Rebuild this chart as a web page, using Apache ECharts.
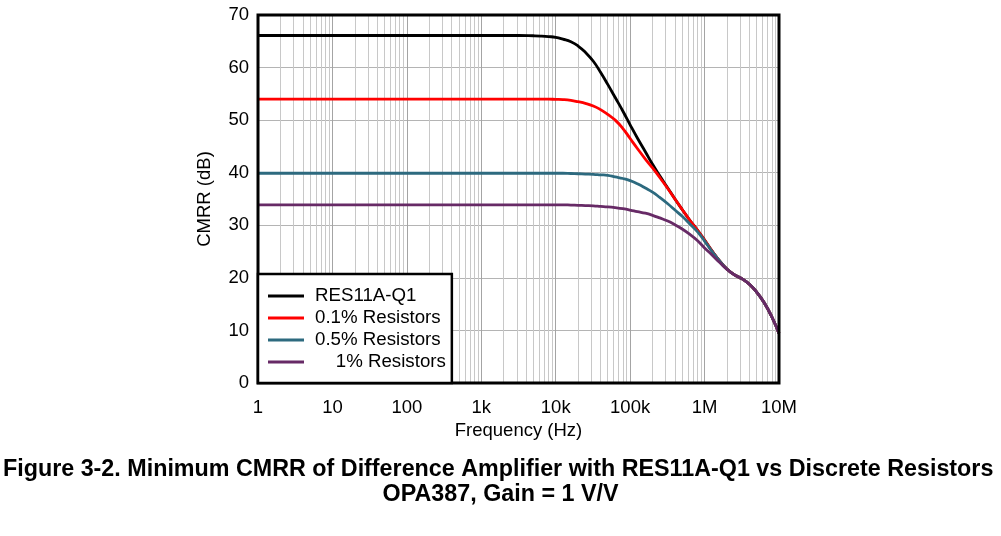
<!DOCTYPE html>
<html>
<head>
<meta charset="utf-8">
<script src="https://cdn.jsdelivr.net/npm/echarts@6/dist/echarts.min.js"></script>
<style>
html,body{margin:0;padding:0;background:#fff;}
#chart{width:1001px;height:536px;}
</style>
</head>
<body>
<div id="chart"></div>
<script>
// Frequencies (Hz) shared by all series
const freq = [1, 10, 100, 1e3, 2e3, 3.2e3, 5e3, 6.3e3, 8e3, 1e4, 1.25e4, 1.6e4, 2e4, 2.5e4, 3.2e4, 4e4, 5e4, 6.3e4, 8e4,
  1e5, 1.25e5, 1.6e5, 2e5, 2.5e5, 3.2e5, 4e5, 5e5, 6.3e5, 8e5,
  1e6, 1.25e6, 1.6e6, 2e6, 2.5e6, 3.2e6, 4e6, 5e6, 6.3e6, 8e6, 1e7];
// CMRR (dB)
const res11a = [66.1, 66.1, 66.1, 66.1, 66.1, 66.1, 66.05, 66.0, 65.9, 65.75, 65.4, 64.9, 64.1, 62.9, 61.2, 59.1, 56.8, 54.3, 51.7,
  49.1, 46.6, 44.0, 41.6, 39.4, 37.1, 35.0, 33.0, 31.0, 29.1,
  27.2, 25.2, 23.2, 21.7, 20.6, 19.8, 18.8, 17.3, 15.3, 12.6, 9.4];
const res01 = [54.0, 54.0, 54.0, 54.0, 54.0, 54.0, 54.0, 54.0, 54.0, 53.95, 53.9, 53.75, 53.5, 53.2, 52.7, 52.0, 51.1, 50.0, 48.4,
  46.5, 44.6, 42.6, 40.9, 39.1, 37.0, 35.0, 33.0, 31.0, 29.1,
  27.2, 25.2, 23.2, 21.7, 20.6, 19.8, 18.8, 17.3, 15.3, 12.6, 9.4];
const res05 = [39.9, 39.9, 39.9, 39.9, 39.9, 39.9, 39.9, 39.9, 39.9, 39.9, 39.9, 39.85, 39.8, 39.75, 39.7, 39.6, 39.5, 39.2, 38.9,
  38.5, 37.9, 37.1, 36.3, 35.3, 34.1, 32.9, 31.7, 30.3, 28.8,
  27.0, 25.1, 23.2, 21.7, 20.6, 19.8, 18.8, 17.3, 15.3, 12.6, 9.4];
const res1 = [33.9, 33.9, 33.9, 33.9, 33.9, 33.9, 33.9, 33.9, 33.9, 33.9, 33.9, 33.85, 33.8, 33.75, 33.7, 33.6, 33.5, 33.35, 33.15,
  32.9, 32.6, 32.3, 31.9, 31.4, 30.8, 30.1, 29.3, 28.3, 27.1,
  25.7, 24.4, 22.9, 21.6, 20.6, 19.8, 18.8, 17.3, 15.3, 12.6, 9.4];

const seriesNames = ['RES11A-Q1', '0.1% Resistors', '0.5% Resistors', '1% Resistors'];
const seriesColors = ['#000000', '#ff0000', '#2d6a7f', '#672a66'];
const seriesValues = [res11a, res01, res05, res1];

// Tick labels
const xTickValues = [1, 10, 100, 1e3, 1e4, 1e5, 1e6, 1e7];
const xTickLabels = ['1', '10', '100', '1k', '10k', '100k', '1M', '10M'];

// Minor grid positions (2..9 within each decade)
const minorGrid = [];
for (let d = 0; d < 7; d++) {
  for (let m = 2; m <= 9; m++) minorGrid.push(m * Math.pow(10, d));
}

const chart = echarts.init(document.getElementById('chart'), null, {renderer: 'canvas'});
const FONT = 'Liberation Sans, Arial, sans-serif';

const series = seriesNames.map((name, i) => ({
  name: name,
  type: 'line',
  data: freq.map((f, k) => [f, seriesValues[i][k]]),
  showSymbol: false,
  smooth: 0.5,
  lineStyle: {color: seriesColors[i], width: 2.8},
  itemStyle: {color: seriesColors[i]},
  z: 5 + i
}));

series.unshift({
  name: 'minorGrid',
  type: 'line',
  data: [],
  silent: true,
  z: 1,
  markLine: {
    silent: true,
    symbol: ['none', 'none'],
    label: {show: false},
    lineStyle: {color: '#c8c8c8', width: 1, type: 'solid'},
    data: minorGrid.map(v => ({xAxis: v}))
  }
});

chart.setOption({
  animation: false,
  backgroundColor: '#ffffff',
  grid: {
    left: 258, right: 222, top: 15, bottom: 153,
    show: true, borderColor: '#000000', borderWidth: 3, backgroundColor: 'transparent', z: 10
  },
  xAxis: {
    type: 'log', logBase: 10, min: 1, max: 1e7,
    name: 'Frequency (Hz)', nameLocation: 'middle', nameGap: 36,
    nameTextStyle: {fontFamily: FONT, fontSize: 18.5, color: '#000'},
    axisLine: {show: false},
    axisTick: {show: false},
    axisLabel: {
      fontFamily: FONT, fontSize: 18.5, color: '#000', margin: 15,
      formatter: function (v) {
        const idx = xTickValues.findIndex(t => Math.abs(Math.log10(t) - Math.log10(v)) < 1e-6);
        return idx >= 0 ? xTickLabels[idx] : '';
      }
    },
    splitLine: {show: true, lineStyle: {color: '#a4a4a4', width: 1}}
  },
  yAxis: {
    type: 'value', min: 0, max: 70, interval: 10,
    name: 'CMRR (dB)', nameLocation: 'middle', nameGap: 44,
    nameTextStyle: {fontFamily: FONT, fontSize: 18.5, color: '#000'},
    axisLine: {show: false},
    axisTick: {show: false},
    axisLabel: {fontFamily: FONT, fontSize: 18.5, color: '#000', margin: 9},
    splitLine: {show: true, lineStyle: {color: '#b4b4b4', width: 1}}
  },
  legend: {
    data: seriesNames,
    orient: 'vertical',
    left: 258, top: 274,
    padding: [11, 6, 10, 10],
    itemGap: 0,
    itemWidth: 36,
    itemHeight: 3,
    icon: 'rect',
    backgroundColor: '#ffffff',
    borderColor: '#000000',
    borderWidth: 2.5,
    z: 20,
    formatter: function (name) { return name === '1% Resistors' ? '    ' + name : name; },
    textStyle: {fontFamily: FONT, fontSize: 18.7, color: '#000', lineHeight: 22, padding: [0, 0, 0, 6]}
  },
  graphic: [
    {type: 'text', left: 3, top: 458, style: {text: 'Figure 3-2. Minimum CMRR of Difference Amplifier with RES11A-Q1 vs Discrete Resistors', font: 'bold 23.3px Liberation Sans, Arial, sans-serif', fill: '#000'}},
    {type: 'text', left: 'center', top: 483, style: {text: 'OPA387, Gain = 1 V/V', font: 'bold 23.3px Liberation Sans, Arial, sans-serif', fill: '#000'}}
  ],
  series: series
});
</script>
</body>
</html>
